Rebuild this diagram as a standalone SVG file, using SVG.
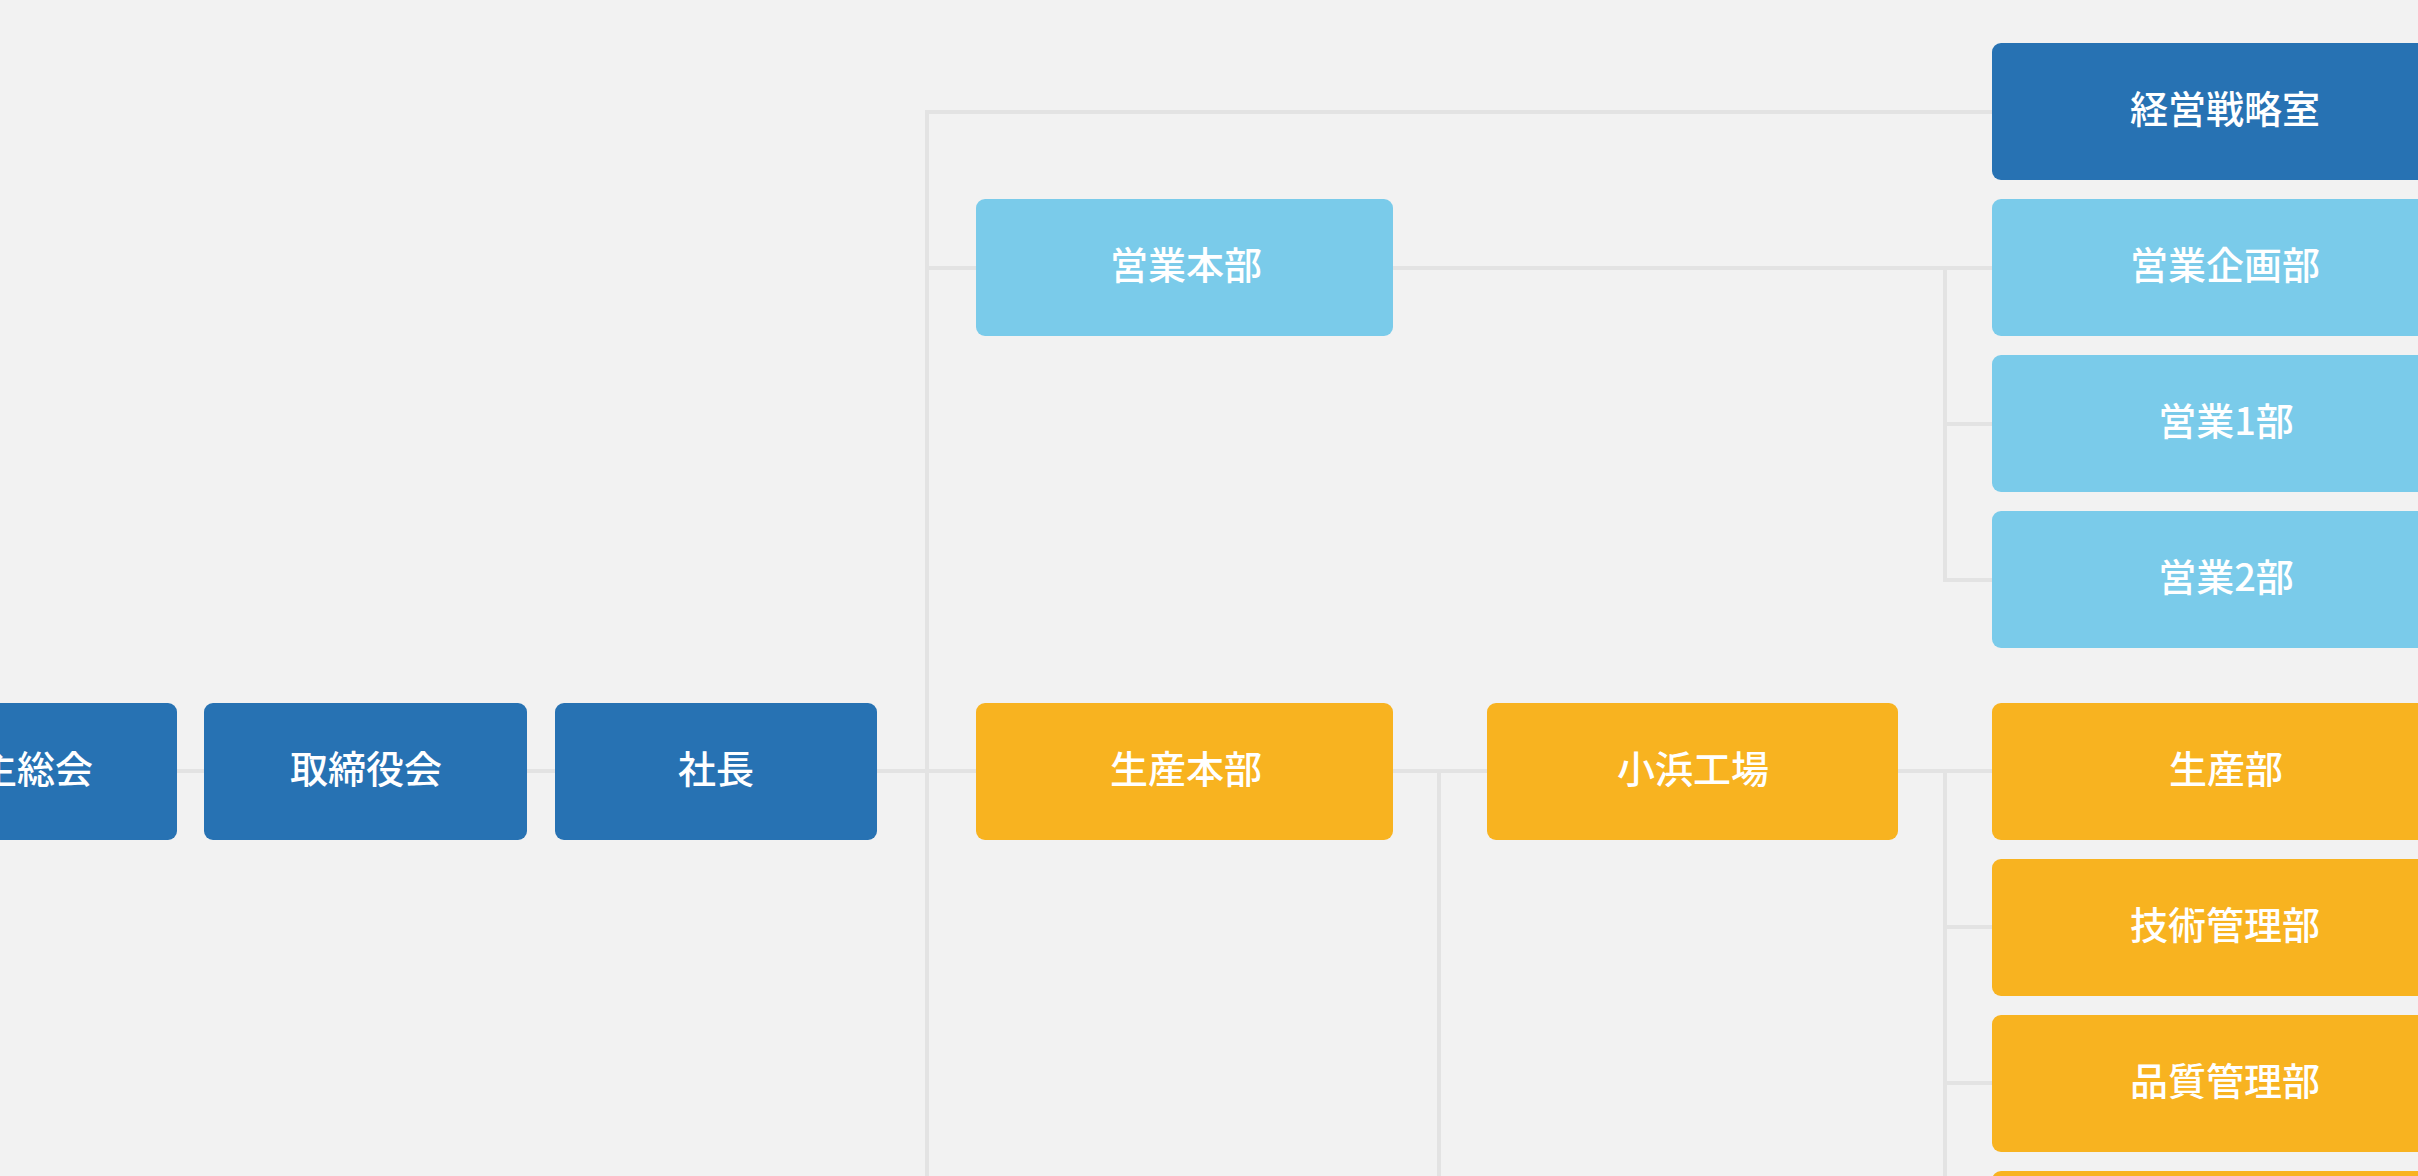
<svg xmlns="http://www.w3.org/2000/svg" width="2418" height="1176" viewBox="0 0 2418 1176">
<style>
.bg{fill:#f2f2f2}
.ln{fill:none;stroke:#e3e3e3;stroke-width:4;stroke-linejoin:miter}
.dk{fill:#2772b3}
.lt{fill:#7acbea}
.or{fill:#f8b320}
.t{font-family:"Noto Sans CJK JP","Noto Sans CJK SC",sans-serif;font-size:38px;font-weight:500;fill:#ffffff;text-anchor:middle}
</style>
<rect class="bg" x="0" y="0" width="2418" height="1176"/>
<g id="connectors">
<path class="ln" d="M177 771H204"/>
<path class="ln" d="M527 771H555"/>
<path class="ln" d="M877 771H976"/>
<path class="ln" d="M927 1180V112H1992"/>
<path class="ln" d="M927 268H976"/>
<path class="ln" d="M1393 268H1992"/>
<path class="ln" d="M1945 268V580H1992"/>
<path class="ln" d="M1945 424H1992"/>
<path class="ln" d="M1393 771H1487"/>
<path class="ln" d="M1439 771V1180"/>
<path class="ln" d="M1898 771H1992"/>
<path class="ln" d="M1945 771V1180"/>
<path class="ln" d="M1945 927H1992"/>
<path class="ln" d="M1945 1083H1992"/>
</g>
<g id="kabunushi"><rect class="dk" x="-146" y="703" width="323" height="137" rx="9"/><text class="t" x="17" y="783">株主総会</text></g>
<g id="torishimariyakukai"><rect class="dk" x="204" y="703" width="323" height="137" rx="9"/><text class="t" x="366" y="783">取締役会</text></g>
<g id="shacho"><rect class="dk" x="555" y="703" width="322" height="137" rx="9"/><text class="t" x="716" y="783">社長</text></g>
<g id="eigyohonbu"><rect class="lt" x="976" y="199" width="417" height="137" rx="9"/><text class="t" x="1186" y="279">営業本部</text></g>
<g id="seisanhonbu"><rect class="or" x="976" y="703" width="417" height="137" rx="9"/><text class="t" x="1186" y="783">生産本部</text></g>
<g id="obamakojo"><rect class="or" x="1487" y="703" width="411" height="137" rx="9"/><text class="t" x="1693" y="783">小浜工場</text></g>
<g id="keiei"><rect class="dk" x="1992" y="43" width="466" height="137" rx="9"/><text class="t" x="2225" y="123">経営戦略室</text></g>
<g id="eigyokikaku"><rect class="lt" x="1992" y="199" width="466" height="137" rx="9"/><text class="t" x="2225" y="279">営業企画部</text></g>
<g id="eigyo1"><rect class="lt" x="1992" y="355" width="466" height="137" rx="9"/><text class="t" x="2226" y="435">営業1部</text></g>
<g id="eigyo2"><rect class="lt" x="1992" y="511" width="466" height="137" rx="9"/><text class="t" x="2226" y="591">営業2部</text></g>
<g id="seisanbu"><rect class="or" x="1992" y="703" width="466" height="137" rx="9"/><text class="t" x="2226" y="783">生産部</text></g>
<g id="gijutsu"><rect class="or" x="1992" y="859" width="466" height="137" rx="9"/><text class="t" x="2225" y="939">技術管理部</text></g>
<g id="hinshitsu"><rect class="or" x="1992" y="1015" width="466" height="137" rx="9"/><text class="t" x="2225" y="1095">品質管理部</text></g>
<g id="next"><rect class="or" x="1992" y="1171" width="466" height="137" rx="9"/></g>
</svg>
